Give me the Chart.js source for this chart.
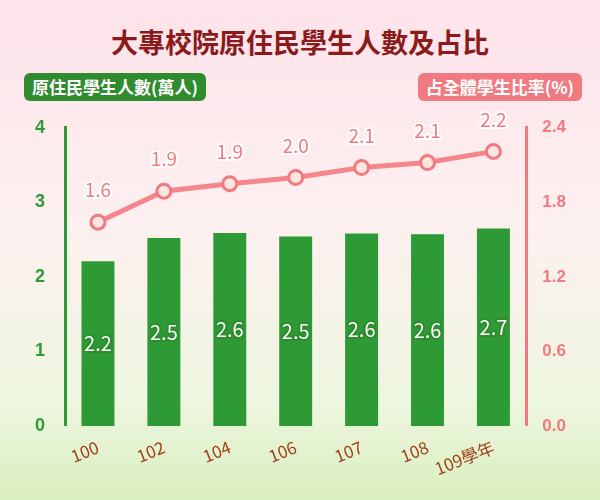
<!DOCTYPE html>
<html><head><meta charset="utf-8">
<script src="https://cdn.jsdelivr.net/npm/chart.js@4/dist/chart.umd.min.js"></script>
<style>
html,body{margin:0;padding:0}
body{width:600px;height:500px;background:linear-gradient(#fde3ea 0%,#fdf0f0 45%,#eef6e0 80%,#d9efbf 100%);position:relative;font-family:"Noto Sans CJK TC",sans-serif;overflow:hidden}
#t{position:absolute;top:22px;left:0;width:600px;text-align:center;font-size:27px;font-weight:bold;color:#8b1a1a}
.lg{position:absolute;top:73px;height:28px;line-height:28px;border-radius:6px;color:#fff;font-size:17px;font-weight:bold;padding:0 8px}
#l1{left:24px;background:#2e8b2e}#l2{right:18px;background:#f07a80}
#c{position:absolute;left:0;top:105px}
</style></head><body>
<div id="t">大專校院原住民學生人數及占比</div>
<div class="lg" id="l1">原住民學生人數(萬人)</div>
<div class="lg" id="l2">占全體學生比率(%)</div>
<canvas id="c" width="600" height="377"></canvas>
<script>
const categories=["100","102","104","106","107","108","109學年"];
const students=[2.21,2.52,2.59,2.54,2.58,2.57,2.65];
const studentLabels=["2.2","2.5","2.6","2.5","2.6","2.6","2.7"];
const ratio=[1.64,1.89,1.95,2.0,2.08,2.12,2.21];
const ratioLabels=["1.6","1.9","1.9","2.0","2.1","2.1","2.2"];
const leftTicks=[0,1,2,3,4];
const rightTicks=[0,0.6,1.2,1.8,2.4];
const lbl={id:'lbl',afterDatasetsDraw(ch){const c=ch.ctx;c.save();c.textAlign='center';c.textBaseline='middle';c.lineJoin='round';
 ch.getDatasetMeta(1).data.forEach((b,i)=>{const y=(b.y+b.base)/2;c.font='20px "Noto Sans CJK TC"';c.lineWidth=4;c.strokeStyle='#2e8b2e';c.strokeText(studentLabels[i],b.x,y);c.fillStyle='#fff';c.fillText(studentLabels[i],b.x,y);});
 ch.getDatasetMeta(0).data.forEach((p,i)=>{const y=p.y-32;c.font='19px "Noto Sans CJK TC"';c.lineWidth=4;c.strokeStyle='#fff';c.strokeText(ratioLabels[i],p.x,y);c.fillStyle='#f07a80';c.fillText(ratioLabels[i],p.x,y);});
 c.restore();}};
new Chart(document.getElementById('c'),{data:{labels:categories,datasets:[
 {type:'line',data:ratio,yAxisID:'y1',borderColor:'#f4868c',borderWidth:5,pointRadius:7,pointBackgroundColor:'#fde6e0',pointBorderColor:'#f07a80',pointBorderWidth:3,order:0},
 {type:'bar',data:students,yAxisID:'y',backgroundColor:'#2e9a36',barPercentage:0.5,categoryPercentage:1,order:1}]},
 options:{responsive:false,animation:false,layout:{padding:{left:23,right:26,top:10}},plugins:{legend:{display:false},tooltip:{enabled:false}},
 scales:{x:{grid:{display:false},border:{display:false},ticks:{color:'#a0401a',font:{size:17,family:'"Noto Sans CJK TC"'}}},
 y:{position:'left',min:0,max:4,afterBuildTicks:a=>{a.ticks=leftTicks.map(v=>({value:v}))},grid:{display:false},border:{color:'#2e9a36',width:3},ticks:{color:'#2e9a36',font:{size:18,weight:'bold'},padding:12}},
 y1:{position:'right',min:0,max:2.4,afterBuildTicks:a=>{a.ticks=rightTicks.map(v=>({value:v}))},grid:{display:false},border:{color:'#f07a80',width:3},ticks:{color:'#f07a80',font:{size:17,weight:'bold'},padding:8,callback:v=>v.toFixed(1)}}}},
 plugins:[lbl]});
</script></body></html>
